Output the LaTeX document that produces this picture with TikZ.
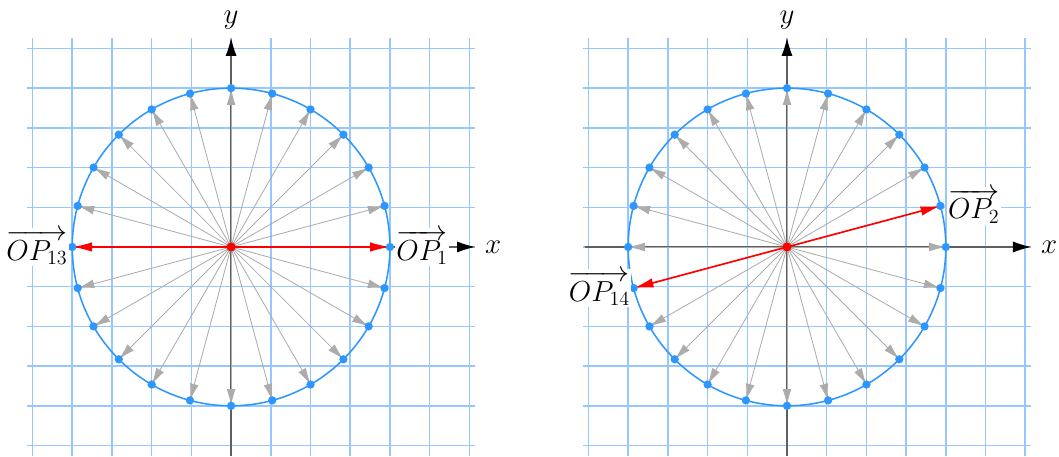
\documentclass[tikz,border=0pt]{standalone}
\usepackage{amsmath}
\usetikzlibrary{arrows.meta}
\definecolor{gridblue}{RGB}{150,200,255}
\definecolor{circblue}{RGB}{45,150,255}
\definecolor{vecgray}{RGB}{172,172,172}
\definecolor{axisgray}{RGB}{95,95,95}

\begin{document}
\begin{tikzpicture}[
    font=\huge,
    gridline/.style={gridblue, line width=1.1pt},
    axis/.style={axisgray, line width=0.9pt, -{Latex[length=4.6mm, width=2.8mm, black]}},
    axislabel/.style={inner sep=1pt},
    vec/.style={vecgray, line width=0.6pt, -{Latex[length=4.2mm, width=2.2mm]}},
    redvec/.style={red, line width=1.2pt, -{Latex[length=5mm, width=2.4mm]}},
    dot/.style={circle, fill=circblue, inner sep=0pt, minimum size=2.1mm},
    reddot/.style={circle, fill=red, inner sep=0pt, minimum size=2.3mm},
    lbl/.style={fill=white, inner sep=1pt},
]
\useasboundingbox (-5.82,-5.27) rectangle (20.85,6.22);

% two panels, the red vectors are P_a and P_b
\foreach \p/\cx/\ra/\rb in {L/0/1/13, R/14/2/14} {
  \begin{scope}[xshift=\cx cm]
    % grid
    \foreach \i in {-5,...,6}
      \draw[gridline] (\i,-5.27) -- (\i,5.27);
    \foreach \j in {-5,...,5}
      \draw[gridline] (-5.13,\j) -- (6.15,\j);

    \coordinate (\p O) at (0,0);
    \coordinate (\p xs) at (-5.1,0);
    \coordinate (\p xe) at (6.15,0);
    \coordinate (\p ys) at (0,-5.27);
    \coordinate (\p ye) at (0,5.27);
    \foreach \k in {1,...,24}
      \coordinate (\p P\k) at ({(\k-1)*15}:4);

    % axes
    \draw[axis] (\p xs) -- (\p xe);
    \draw[axis] (\p ys) -- (\p ye);
    \node[axislabel] (\p lx) at (6.6,0) {$x$};
    \node[axislabel] (\p ly) at (0,5.72) {$y$};

    \draw[circblue, line width=1.1pt] (\p O) circle (4);

    % vectors O -> P_k
    \foreach \k in {1,...,24} {
      \ifnum\k=\ra\relax\else\ifnum\k=\rb\relax\else
        \draw[vec] (\p O) -- (\p P\k);
      \fi\fi
    }
    \draw[redvec] (\p O) -- (\p P\ra);
    \draw[redvec] (\p O) -- (\p P\rb);

    \foreach \k in {1,...,24}
      \node[dot] (\p D\k) at (\p P\k) {};
    \node[reddot] (\p c) at (\p O) {};
  \end{scope}
}

% labels
\node[lbl, right=0.12cm] (l1) at (LP1) {$\overrightarrow{OP_1}$};
\node[lbl, left=0.08cm] (l13) at (LP13) {$\overrightarrow{OP_{13}}$};
\node[lbl, right=0.15cm] (l2) at (RP2) {$\overrightarrow{OP_2}$};
\node[lbl, left=0.05cm] (l14) at (RP14) {$\overrightarrow{OP_{14}}$};
\end{tikzpicture}
\end{document}
